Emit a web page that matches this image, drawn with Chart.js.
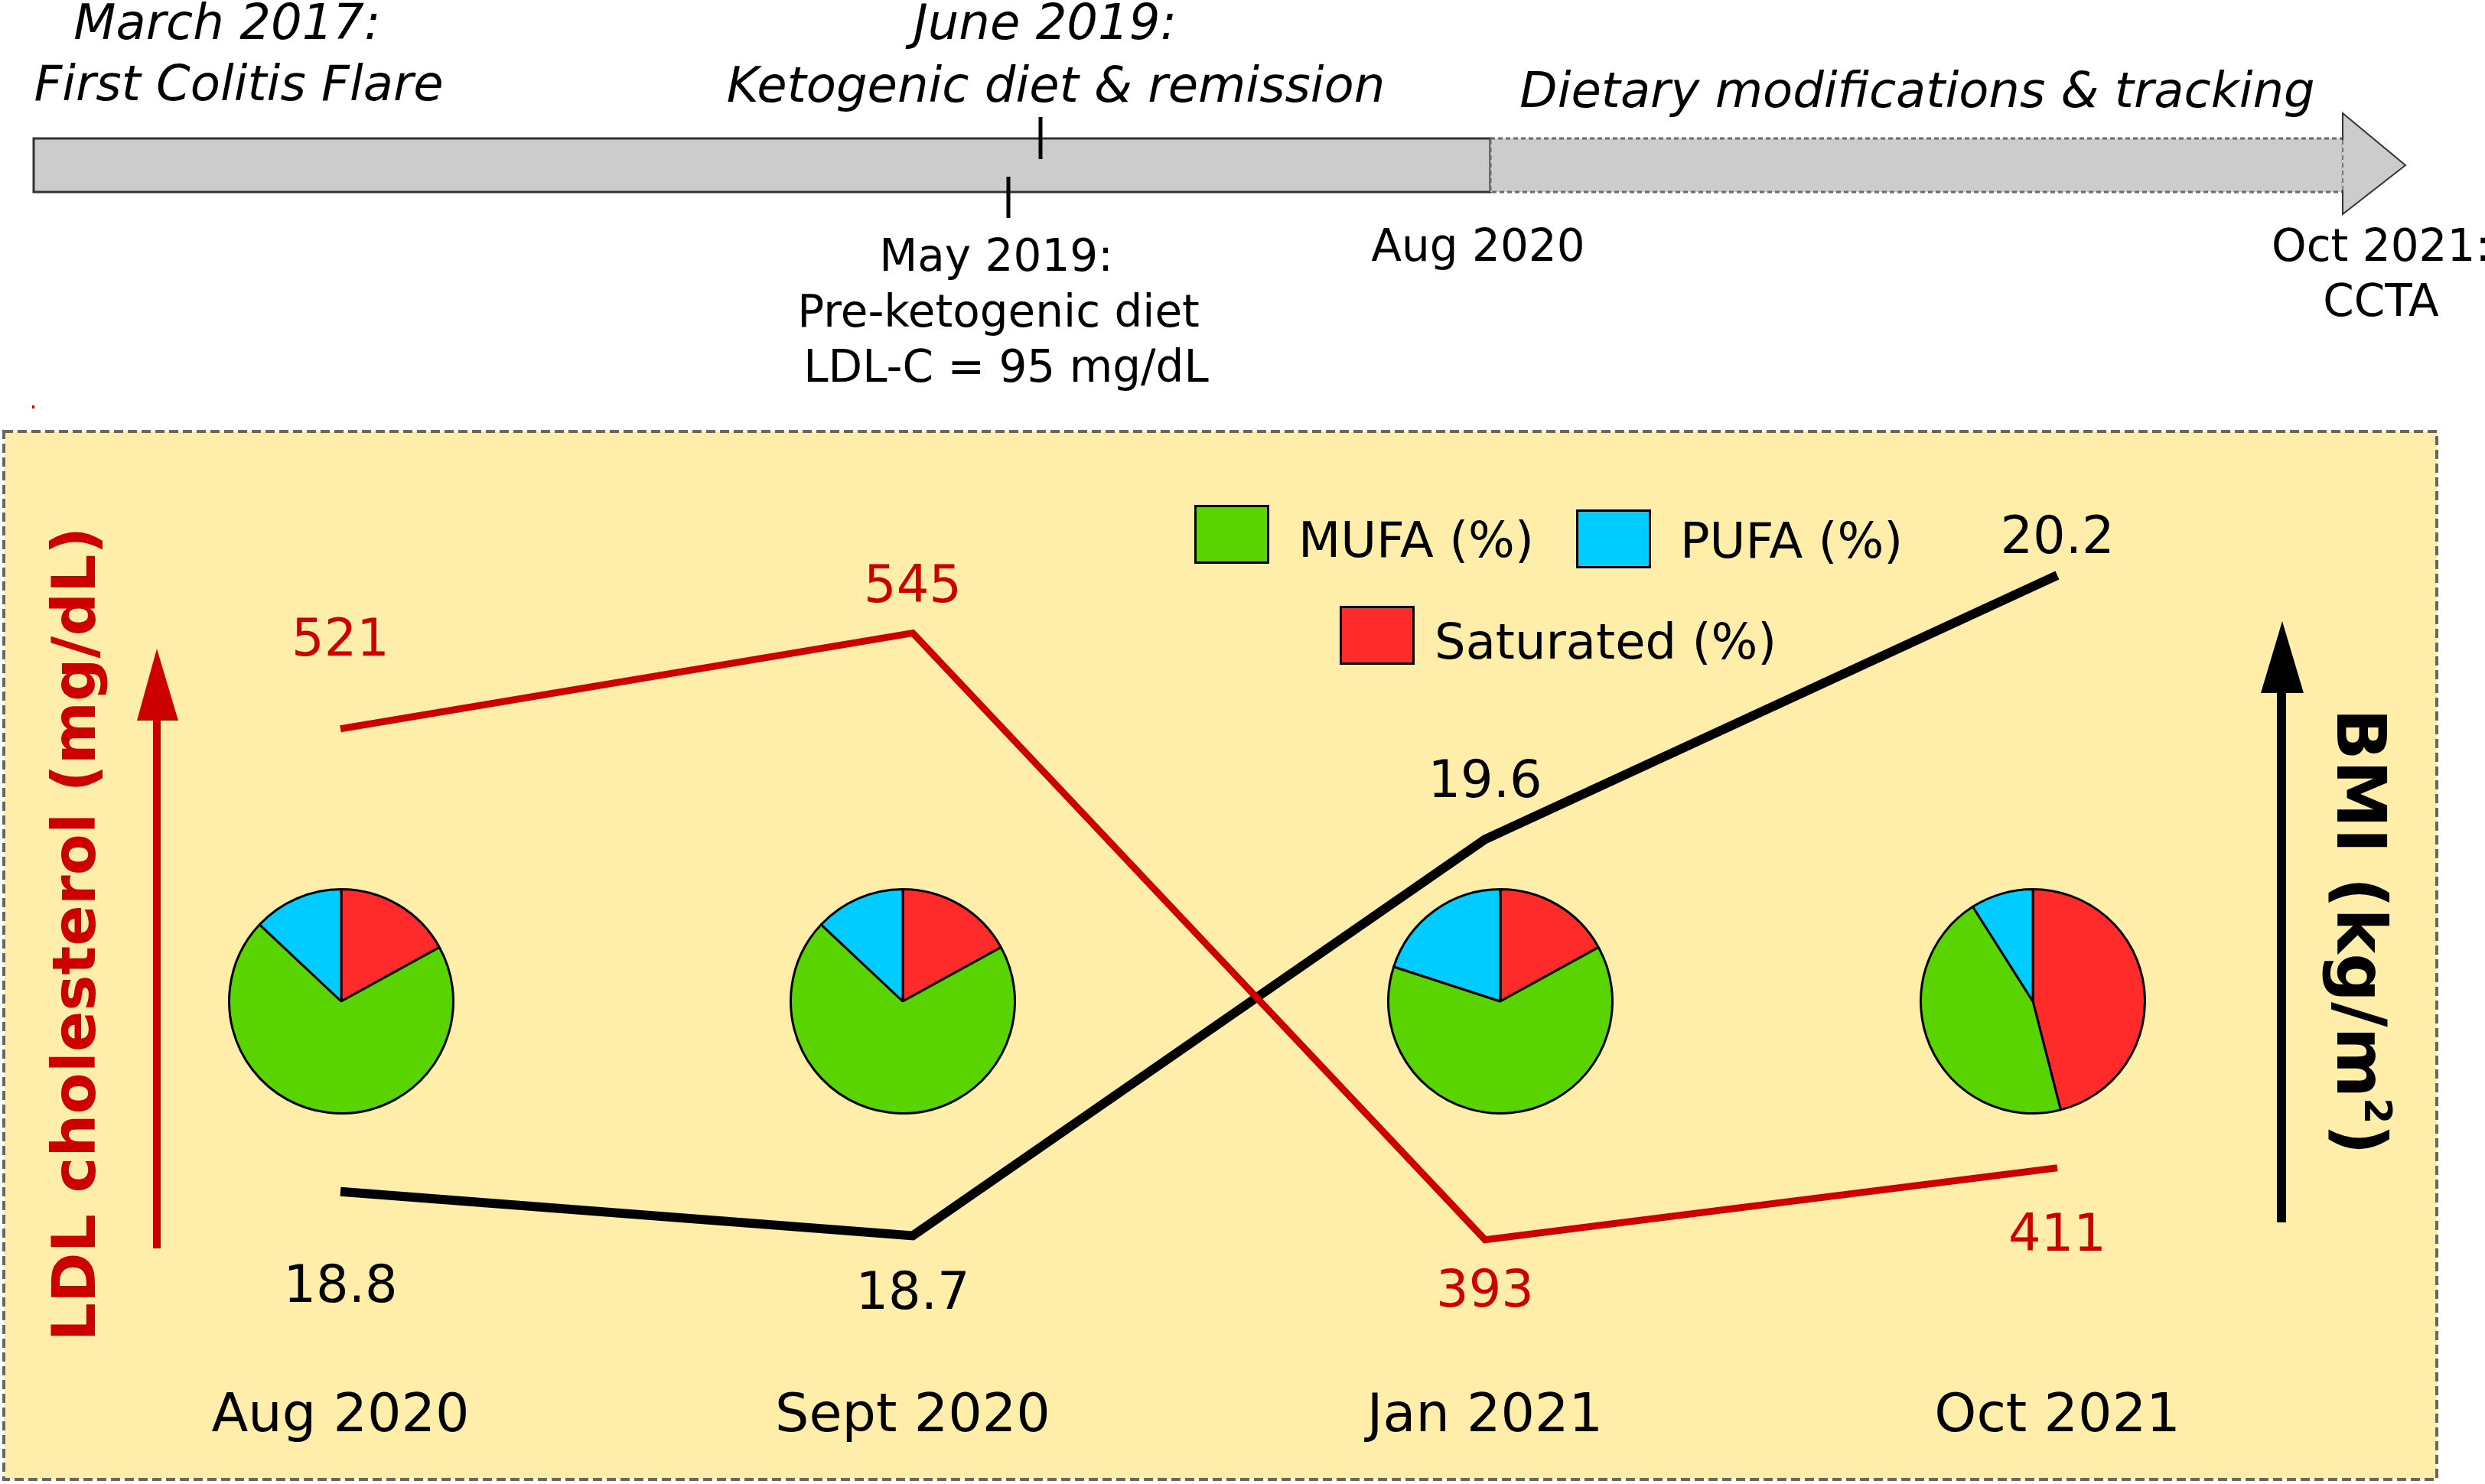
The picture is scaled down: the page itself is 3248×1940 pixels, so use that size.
<!DOCTYPE html>
<html>
<head>
<meta charset="utf-8">
<script src="https://cdn.jsdelivr.net/npm/chart.js@4.4.1/dist/chart.umd.min.js"></script>
<style>
  html, body { margin: 0; padding: 0; background: #fff; overflow: hidden; }
  body { width: 3248px; height: 1940px; position: relative; font-family: 'DejaVu Sans', Verdana, sans-serif; }
  .t { position: absolute; line-height: 1; white-space: nowrap; transform: translateX(-50%); text-align: center; color: #000; }
  .it { font-style: italic; font-size: 64px; }
  .rg { font-size: 58px; }
  .leg { position: absolute; line-height: 1; font-size: 64px; white-space: nowrap; }
  .box { position: absolute; border: 3px solid #000; box-sizing: border-box; }
  .pie { position: absolute; width: 296px; height: 296px; }
  .vlab { position: absolute; line-height: 1; white-space: nowrap; font-weight: bold; }
</style>
</head>
<body>
<svg width="3248" height="1940" style="position:absolute;left:0;top:0">
  <!-- timeline -->
  <rect x="44" y="181" width="1904" height="70" fill="#cccccc" stroke="#333" stroke-width="3"/>
  <rect x="1948" y="181" width="1114" height="70" fill="#cccccc" stroke="#6a6a6a" stroke-width="3" stroke-dasharray="6 4"/>
  <polygon points="3062,148 3144,216 3062,280" fill="#cccccc" stroke="#333" stroke-width="2"/>
  <line x1="3062" y1="183" x2="3062" y2="249" stroke="#cccccc" stroke-width="3"/>
  <line x1="3062" y1="183" x2="3062" y2="249" stroke="#777" stroke-width="2" stroke-dasharray="6 4"/>
  <line x1="1360" y1="153" x2="1360" y2="208" stroke="#000" stroke-width="5"/>
  <line x1="1318" y1="231" x2="1318" y2="285" stroke="#000" stroke-width="5"/>
  <rect x="42" y="530" width="3" height="4" fill="#e00000"/>
  <!-- panel -->
  <rect x="5" y="564" width="3180" height="1370" fill="#ffeeaa" stroke="#666" stroke-width="4" stroke-dasharray="12 6"/>
  <!-- axis arrows -->
  <line x1="205" y1="1632" x2="205" y2="930" stroke="#cc0000" stroke-width="10"/>
  <polygon points="179,942 205,848 233,942" fill="#cc0000"/>
  <line x1="2982" y1="1598" x2="2982" y2="895" stroke="#000" stroke-width="12"/>
  <polygon points="2955,906 2983,812 3011,906" fill="#000"/>
</svg>

<!-- timeline texts -->
<div class="t it" style="left:297px;top:-3px">March 2017:</div>
<div class="t it" style="left:312px;top:77px">First Colitis Flare</div>
<div class="t it" style="left:1366px;top:-3px">June 2019:</div>
<div class="t it" style="left:1380px;top:79px">Ketogenic diet &amp; remission</div>
<div class="t it" style="left:2506px;top:86px">Dietary modifications &amp; tracking</div>
<div class="t rg" style="left:1302px;top:305px">May 2019:</div>
<div class="t rg" style="left:1305px;top:378px">Pre-ketogenic diet</div>
<div class="t rg" style="left:1315px;top:450px">LDL-C = 95 mg/dL</div>
<div class="t rg" style="left:1932px;top:292px">Aug 2020</div>
<div class="t rg" style="left:3112px;top:292px">Oct 2021:</div>
<div class="t rg" style="left:3112px;top:364px">CCTA</div>

<!-- axis titles -->
<div class="vlab" style="left:97px;top:1221px;color:#cc0000;font-size:79px;transform:translate(-50%,-50%) rotate(-90deg)">LDL cholesterol (mg/dL)</div>
<div class="vlab" style="left:3086px;top:1218px;color:#000;font-size:89px;transform:translate(-50%,-50%) rotate(90deg)">BMI (kg/m<sup style="font-size:55%;vertical-align:0.75em">2</sup>)</div>

<canvas id="lines" width="3248" height="1940" style="position:absolute;left:0;top:0"></canvas>

<div class="pie" style="left:298px;top:1161px"><canvas id="pie0" width="296" height="296"></canvas></div>
<div class="pie" style="left:1032px;top:1161px"><canvas id="pie1" width="296" height="296"></canvas></div>
<div class="pie" style="left:1813px;top:1161px"><canvas id="pie2" width="296" height="296"></canvas></div>
<div class="pie" style="left:2509px;top:1161px"><canvas id="pie3" width="296" height="296"></canvas></div>

<div id="legend"></div>

<script>
// visits
const dates = ['Aug 2020', 'Sept 2020', 'Jan 2021', 'Oct 2021'];
// LDL cholesterol, mg/dL
const ldl = [521, 545, 393, 411];
// BMI, kg/m2
const bmi = [18.8, 18.7, 19.6, 20.2];
// dietary fat share (%) at each visit
const saturated = [17, 17, 17, 46];
const mufa = [70, 70, 63, 45];
const pufa = [13, 13, 20, 9];
const fatNames = ['Saturated (%)', 'MUFA (%)', 'PUFA (%)'];
const fatColors = ['#ff2b2b', '#5ad400', '#00ccff'];

// value labels next to each vertex
const valueLabels = {
  id: 'valueLabels',
  afterDatasetsDraw(chart, args, opts) {
    const ctx = chart.ctx;
    chart.data.datasets.forEach((ds, i) => {
      const meta = chart.getDatasetMeta(i);
      ctx.save();
      ctx.font = opts.font;
      ctx.fillStyle = ds.borderColor;
      ctx.textAlign = 'center';
      ctx.textBaseline = 'middle';
      meta.data.forEach((pt, j) => {
        ctx.fillText(String(ds.data[j]), pt.x, pt.y + opts.offsets[i][j]);
      });
      ctx.restore();
    });
  }
};

new Chart(document.getElementById('lines'), {
  type: 'line',
  data: {
    labels: dates,
    datasets: [
      { label: 'LDL', data: ldl, yAxisID: 'y', borderColor: '#cc0000', borderWidth: 9, pointRadius: 0, tension: 0 },
      { label: 'BMI', data: bmi, yAxisID: 'y1', borderColor: '#000000', borderWidth: 12, pointRadius: 0, tension: 0 }
    ]
  },
  options: {
    responsive: false,
    animation: false,
    devicePixelRatio: 1,
    layout: { padding: { left: 445, right: 559, top: 600, bottom: 45 } },
    plugins: {
      legend: { display: false },
      tooltip: { enabled: false },
      valueLabels: {
        font: '67px "DejaVu Sans"',
        offsets: [[-113, -58, 70, 91], [127, 78, -73, -46]]
      }
    },
    scales: {
      x: {
        offset: false,
        grid: { display: false, drawTicks: false },
        border: { display: false },
        ticks: { color: '#000', font: { family: 'DejaVu Sans', size: 70 }, padding: 111, maxRotation: 0, autoSkip: false },
        afterFit: scale => { scale.height = 195; }
      },
      y: { display: false, min: 377.8, max: 588.6 },
      y1: { display: false, min: 18.553, max: 20.464 }
    }
  },
  plugins: [valueLabels]
});

dates.forEach((d, k) => {
  new Chart(document.getElementById('pie' + k), {
    type: 'pie',
    data: {
      labels: fatNames,
      datasets: [{
        data: [saturated[k], mufa[k], pufa[k]],
        backgroundColor: fatColors,
        borderColor: '#000',
        borderWidth: 3
      }]
    },
    options: {
      responsive: false,
      animation: false,
      devicePixelRatio: 1,
      plugins: { legend: { display: false }, tooltip: { enabled: false } }
    }
  });
});

// legend: MUFA, PUFA on the first row, Saturated below
const legendSpots = [
  { i: 1, bx: 1561, by: 660, tx: 1697, ty: 674 },
  { i: 2, bx: 2060, by: 666, tx: 2196, ty: 675 },
  { i: 0, bx: 1751, by: 792, tx: 1875, ty: 807 }
];
const leg = document.getElementById('legend');
legendSpots.forEach(s => {
  const b = document.createElement('div');
  b.className = 'box';
  b.style.cssText = `left:${s.bx}px;top:${s.by}px;width:98px;height:77px;background:${fatColors[s.i]}`;
  leg.appendChild(b);
  const t = document.createElement('div');
  t.className = 'leg';
  t.style.cssText = `left:${s.tx}px;top:${s.ty}px`;
  t.textContent = fatNames[s.i];
  leg.appendChild(t);
});
</script>
</body>
</html>
